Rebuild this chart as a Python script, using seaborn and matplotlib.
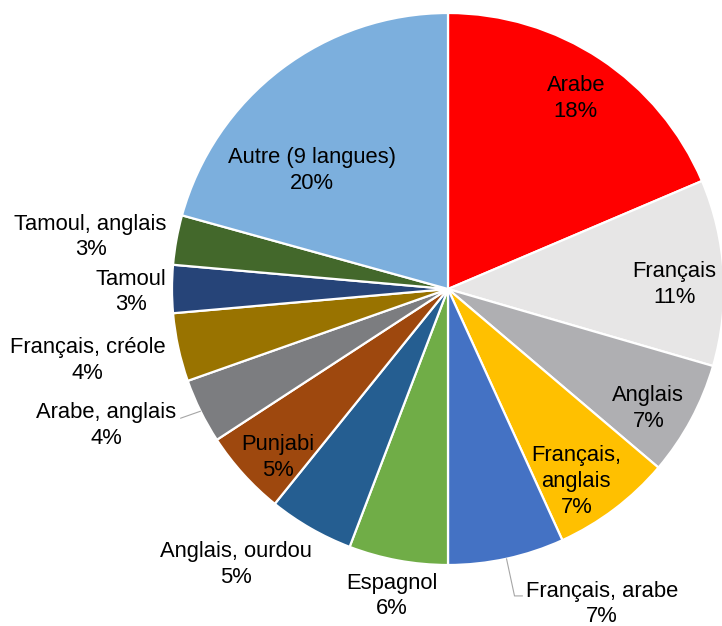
import numpy as np
import seaborn as sns
import matplotlib.pyplot as plt

# data (clockwise from 12 o'clock)
langues = ["Arabe", "Français", "Anglais", "Français,\nanglais", "Français, arabe",
           "Espagnol", "Anglais, ourdou", "Punjabi", "Arabe, anglais",
           "Français, créole", "Tamoul", "Tamoul, anglais", "Autre (9 langues)"]
parts = [18.6, 10.9, 6.7, 7.0, 6.8, 5.8, 5.0, 5.0, 3.8, 4.0, 2.8, 2.9, 20.7]
pct_labels = ["18%", "11%", "7%", "7%", "7%", "6%", "5%", "5%", "4%", "4%", "3%", "3%", "20%"]

couleurs = ["#FF0000", "#E7E6E6", "#AFAFB2", "#FFC000", "#4472C4", "#70AD47",
            "#255E91", "#9E480E", "#7C7D80", "#997300", "#264478", "#43682B", "#7CAFDD"]

# label placement: radial factor and angular nudge (deg, clockwise)
dist = [0.84, 0.82, 0.84, 0.83, 1.26, 1.12, 1.25, 0.86, 1.33, 1.33, 1.15, 1.31, 0.66]
nudge = [0, 1.5, 2, 3, -14, 0, 8, -2, 5, 1.5, 0, -1.5, -11]
leaders = [4, 8]

sns.set_theme(style="white")
plt.rcParams['font.family'] = ['Liberation Sans', 'DejaVu Sans']

fig = plt.figure(figsize=(7.22, 6.26), dpi=100)
ax = fig.add_axes([0, 0, 1, 1])
ax.axis('off')

cx, cy, R = 448, 626 - 289, 276
wedges, _ = ax.pie(parts, colors=sns.color_palette(couleurs), startangle=90,
                   counterclock=False, center=(cx, cy), radius=R,
                   wedgeprops=dict(edgecolor='white', linewidth=1.6))
ax.set_xlim(0, 722)
ax.set_ylim(0, 626)
ax.set_aspect('equal')

for i, w in enumerate(wedges):
    mid = np.deg2rad((w.theta1 + w.theta2) / 2 - nudge[i])
    tx = cx + R * dist[i] * np.cos(mid)
    ty = cy + R * dist[i] * np.sin(mid) - 3
    ax.text(tx, ty, langues[i] + "\n" + pct_labels[i], ha='center', va='center',
            multialignment='center', fontsize=15.8, color='black', linespacing=1.3)
    if i in leaders:
        m0 = np.deg2rad((w.theta1 + w.theta2) / 2)
        x0, y0 = cx + R * np.cos(m0), cy + R * np.sin(m0)
        if i == 4:
            xs = [x0, x0 + 8, x0 + 16]
            ys = [y0, ty + 8, ty + 8]
        else:
            xs = [x0, x0 - 20]
            ys = [y0, ty + 7]
        ax.plot(xs, ys, color='#A6A6A6', lw=0.8)

fig.savefig("out.png", dpi=100)
